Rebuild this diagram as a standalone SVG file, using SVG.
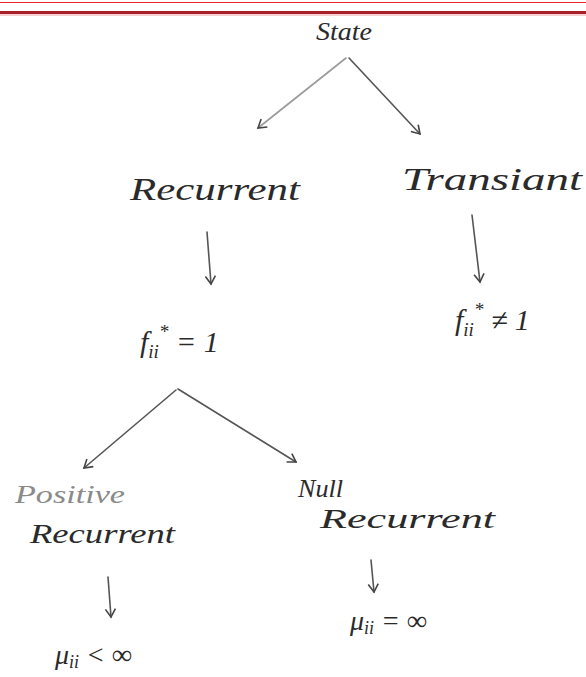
<svg xmlns="http://www.w3.org/2000/svg" width="586" height="677" viewBox="0 0 586 677">
<style>
.t{font-family:"Liberation Serif","DejaVu Serif",serif;font-style:italic;fill:#2a2a2a;}
.c{stroke:#555;stroke-width:1.6;fill:none;stroke-linecap:round;}
.lt{stroke:#9a9a9a;}
</style>
<defs>
<marker id="ah" markerWidth="12" markerHeight="12" refX="9" refY="6" orient="auto" markerUnits="userSpaceOnUse">
<path d="M1,1 L9,6 L1,11" fill="none" stroke="#444" stroke-width="1.6"/>
</marker>
</defs>
<rect width="586" height="677" fill="#fff"/>
<line x1="0" y1="2.5" x2="586" y2="2.5" stroke="#e8262a" stroke-width="1.2"/>
<rect x="0" y="11" width="586" height="3" fill="#a8202a"/>
<line x1="0" y1="15" x2="586" y2="15" stroke="#f2a0a8" stroke-width="1"/>
<g id="connectors">
<path class="c lt" d="M346,58 L258,128" marker-end="url(#ah)"/>
<path class="c" d="M349,58 L420,134" marker-end="url(#ah)"/>
<path class="c" d="M207,232 L211,284" marker-end="url(#ah)"/>
<path class="c" d="M472,215 L480,282" marker-end="url(#ah)"/>
<path class="c" d="M176,390 L84,468" marker-end="url(#ah)"/>
<path class="c" d="M178,389 L296,462" marker-end="url(#ah)"/>
<path class="c" d="M108,577 L111,617" marker-end="url(#ah)"/>
<path class="c" d="M371,560 L374,592" marker-end="url(#ah)"/>
</g>
<g id="state"><text class="t" x="316" y="40" font-size="26" textLength="56" lengthAdjust="spacingAndGlyphs">State</text></g>
<g id="recurrent"><text class="t" x="130" y="200" font-size="32" textLength="170" lengthAdjust="spacingAndGlyphs">Recurrent</text></g>
<g id="transiant"><text class="t" x="402" y="190" font-size="32" textLength="180" lengthAdjust="spacingAndGlyphs">Transiant</text></g>
<g id="f-eq"><text class="t" x="140" y="352" font-size="30">f<tspan font-size="19" dy="6">ii</tspan><tspan font-size="19" dy="-20">*</tspan><tspan dy="14"> = 1</tspan></text></g>
<g id="f-neq"><text class="t" x="455" y="330" font-size="30">f<tspan font-size="19" dy="6">ii</tspan><tspan font-size="19" dy="-20">*</tspan><tspan dy="14"> ≠ 1</tspan></text></g>
<g id="positive"><text class="t" x="15" y="503" font-size="26" style="fill:#8a8a8a" textLength="110" lengthAdjust="spacingAndGlyphs">Positive</text><text class="t" x="30" y="543" font-size="28" textLength="145" lengthAdjust="spacingAndGlyphs">Recurrent</text></g>
<g id="null"><text class="t" x="298" y="497" font-size="26" textLength="45" lengthAdjust="spacingAndGlyphs">Null</text><text class="t" x="320" y="528" font-size="28" textLength="175" lengthAdjust="spacingAndGlyphs">Recurrent</text></g>
<g id="mu-lt"><text class="t" x="55" y="664" font-size="28">μ<tspan font-size="18" dy="4">ii</tspan><tspan dy="-4"> &lt; ∞</tspan></text></g>
<g id="mu-eq"><text class="t" x="350" y="630" font-size="28">μ<tspan font-size="18" dy="4">ii</tspan><tspan dy="-4"> = ∞</tspan></text></g>
</svg>
